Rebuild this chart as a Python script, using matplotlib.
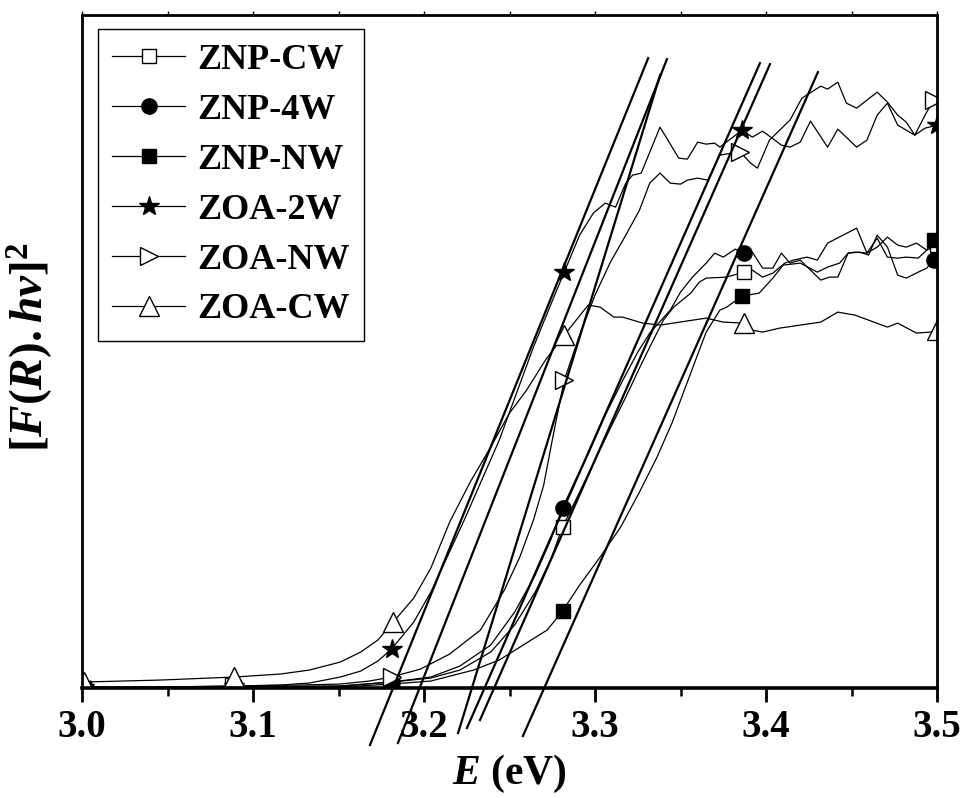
import numpy as np
import matplotlib
matplotlib.use('Agg')
import matplotlib.pyplot as plt
from matplotlib.ticker import MultipleLocator

plt.rcParams['font.family'] = ['Liberation Serif', 'DejaVu Serif']
plt.rcParams['font.weight'] = 'bold'
plt.rcParams['mathtext.fontset'] = 'custom'
plt.rcParams['mathtext.rm'] = 'Liberation Serif:bold'
plt.rcParams['mathtext.it'] = 'Liberation Serif:italic:bold'
plt.rcParams['mathtext.bf'] = 'Liberation Serif:bold'

# ---------------- data (photon energy in eV, [F(R).hv]^2 in a.u.) ----------------
E_znp_cw = [3.001, 3.089, 3.151, 3.181, 3.204, 3.221, 3.239, 3.253, 3.265, 3.274,
            3.281, 3.291, 3.300, 3.309, 3.318, 3.326, 3.332, 3.340, 3.346, 3.356,
            3.361, 3.365, 3.377, 3.387, 3.392, 3.398, 3.404, 3.411, 3.416, 3.424,
            3.430, 3.436, 3.453, 3.459, 3.465, 3.471, 3.477, 3.482, 3.488, 3.494, 3.500]
y_znp_cw = [0, 1, 2, 6, 10, 18, 36, 63, 96, 128,
            161, 196, 228, 260, 291, 320, 341, 368, 381, 395,
            406, 410, 411, 416, 418, 411, 415, 425, 428, 431,
            428, 445, 460, 435, 441, 451, 443, 441, 445, 438, 443]

E_znp_4w = [3.001, 3.089, 3.151, 3.181, 3.204, 3.221, 3.239, 3.253, 3.265, 3.274,
            3.281, 3.288, 3.297, 3.306, 3.316, 3.325, 3.332, 3.344, 3.350, 3.357,
            3.365, 3.370, 3.375, 3.382, 3.387, 3.392, 3.398, 3.404, 3.409, 3.414,
            3.420, 3.426, 3.432, 3.437, 3.442, 3.448, 3.455, 3.460, 3.465, 3.471,
            3.477, 3.482, 3.489, 3.494, 3.498, 3.500]
y_znp_4w = [0, 1, 2, 6, 11, 22, 43, 76, 113, 148,
            180, 206, 238, 273, 307, 336, 355, 378, 396, 411,
            425, 435, 431, 439, 435, 436, 420, 420, 435, 425,
            428, 418, 408, 411, 411, 435, 436, 433, 453, 441,
            413, 410, 416, 420, 428, 430]

E_znp_nw = [3.001, 3.089, 3.151, 3.181, 3.204, 3.229, 3.244, 3.258, 3.272, 3.281,
            3.291, 3.303, 3.315, 3.326, 3.336, 3.345, 3.354, 3.361, 3.365, 3.373,
            3.377, 3.386, 3.396, 3.404, 3.410, 3.420, 3.430, 3.436, 3.443, 3.448,
            3.452, 3.459, 3.465, 3.471, 3.477, 3.482, 3.489, 3.494, 3.498, 3.500]
y_znp_nw = [0, 0, 1, 4, 7, 18, 28, 43, 58, 77,
            103, 131, 161, 196, 230, 265, 306, 338, 356, 378,
            381, 392, 395, 410, 423, 425, 416, 421, 425, 435,
            436, 435, 450, 431, 430, 431, 430, 438, 448, 453]

E_zoa_2w = [3.001, 3.046, 3.089, 3.116, 3.133, 3.151, 3.163, 3.173, 3.181, 3.194,
            3.204, 3.223, 3.244, 3.264, 3.274, 3.282, 3.291, 3.299, 3.306, 3.312,
            3.318, 3.322, 3.327, 3.338, 3.349, 3.354, 3.360, 3.365, 3.370, 3.373,
            3.386, 3.392, 3.398, 3.402, 3.409, 3.414, 3.420, 3.426, 3.436, 3.442,
            3.453, 3.459, 3.465, 3.471, 3.477, 3.487, 3.493, 3.500]
y_zoa_2w = [1, 1, 2, 3, 5, 11, 17, 27, 39, 66,
            96, 166, 248, 341, 383, 416, 453, 475, 485, 481,
            505, 513, 515, 561, 530, 529, 546, 544, 545, 541,
            558, 551, 557, 552, 543, 541, 546, 567, 541, 559,
            541, 548, 573, 585, 563, 553, 560, 563]

E_zoa_nw = [3.001, 3.046, 3.089, 3.127, 3.151, 3.168, 3.181, 3.198, 3.215, 3.233,
            3.247, 3.256, 3.264, 3.270, 3.275, 3.282, 3.291, 3.300, 3.309, 3.318,
            3.326, 3.332, 3.338, 3.344, 3.350, 3.354, 3.360, 3.366, 3.373, 3.380,
            3.385, 3.391, 3.395, 3.402, 3.414, 3.421, 3.432, 3.436, 3.442, 3.447,
            3.453, 3.465, 3.471, 3.477, 3.482, 3.487, 3.493, 3.498, 3.500]
y_zoa_nw = [1, 1, 2, 3, 4, 7, 11, 19, 34, 58,
            98, 131, 168, 203, 248, 308, 353, 393, 426, 453,
            478, 505, 515, 505, 504, 508, 510, 508, 533, 535,
            536, 525, 520, 548, 568, 590, 602, 599, 606, 585,
            580, 596, 586, 573, 566, 553, 573, 588, 591]

E_zoa_cw = [3.001, 3.046, 3.089, 3.116, 3.133, 3.151, 3.163, 3.173, 3.182, 3.194,
            3.204, 3.215, 3.227, 3.239, 3.250, 3.260, 3.271, 3.282, 3.296, 3.303,
            3.311, 3.316, 3.328, 3.338, 3.365, 3.375, 3.387, 3.392, 3.398, 3.408,
            3.420, 3.432, 3.442, 3.452, 3.471, 3.477, 3.488, 3.496, 3.500]
y_zoa_cw = [6, 8, 11, 14, 18, 26, 36, 48, 66, 90,
            120, 166, 206, 241, 275, 298, 328, 353, 383, 381,
            371, 371, 365, 363, 370, 366, 365, 358, 356, 360,
            363, 366, 376, 373, 361, 365, 355, 356, 358]

series_names = ['ZNP-CW', 'ZNP-4W', 'ZNP-NW', 'ZOA-2W', 'ZOA-NW', 'ZOA-CW']
marker_E = [3.001, 3.089, 3.181, 3.282, 3.386, 3.498]

# linear fits (tangents) of the absorption edge: x-intercept (eV), slope (a.u./eV), y extent
fit_Eg = [3.1819, 3.1974, 3.2280, 3.2354, 3.2410, 3.2703]
fit_slope = [4223, 4348, 5570, 3881, 3868, 3849]
fit_ybot = [-57, -55, -45, -40, -32, -48]
fit_ytop = [630, 629, 613, 625, 624, 616]

xtick_vals = [3.0, 3.1, 3.2, 3.3, 3.4, 3.5]
xtick_labels = ['3.0', '3.1', '3.2', '3.3', '3.4', '3.5']

# ---------------- styles ----------------
styles = [
    dict(marker='s', mfc='white', ms=10),
    dict(marker='o', mfc='black', ms=11),
    dict(marker='s', mfc='black', ms=9.5),
    dict(marker='*', mfc='black', ms=15),
    dict(marker='>', mfc='white', ms=13),
    dict(marker='^', mfc='white', ms=14),
]

fig = plt.figure(figsize=(9.66, 7.98), dpi=100)
ax = fig.add_axes([0.0849, 0.1378, 0.8851, 0.8432])

all_E = [E_znp_cw, E_znp_4w, E_znp_nw, E_zoa_2w, E_zoa_nw, E_zoa_cw]
all_y = [y_znp_cw, y_znp_4w, y_znp_nw, y_zoa_2w, y_zoa_nw, y_zoa_cw]

for name, E, y, st in zip(series_names, all_E, all_y, styles):
    E = np.asarray(E)
    idx = [int(np.argmin(np.abs(E - m))) for m in marker_E]
    ax.plot(E, y, color='black', lw=0.9, markevery=idx, mec='black', mew=1.0,
            label=name, **st)

for Eg, s, yb, yt in zip(fit_Eg, fit_slope, fit_ybot, fit_ytop):
    yy = np.array([yb, yt], dtype=float)
    ax.plot(Eg + yy / s, yy, color='black', lw=1.6, clip_on=False, zorder=3)

ax.set_xlim(3.0, 3.5)
ax.set_ylim(0, 673)
ax.set_yticks([])
ax.set_xticks(xtick_vals)
ax.set_xticklabels(xtick_labels)
ax.xaxis.set_minor_locator(MultipleLocator(0.05))
ax.tick_params(axis='x', which='major', direction='out', length=10, width=2,
               labelsize=28, pad=5)
ax.tick_params(axis='x', which='minor', direction='out', length=6, width=1.8)
for lab in ax.get_xticklabels():
    lab.set_fontweight('bold')
for sp in ax.spines.values():
    sp.set_linewidth(2)
ax.spines['bottom'].set_linewidth(2.6)

sec = ax.secondary_xaxis('top')
sec.set_xticks([3.0 + 0.05 * i for i in range(11)])
sec.set_xticklabels([])
sec.tick_params(direction='out', length=3, width=1)

ax.set_xlabel(r'$E$ (eV)', fontsize=30, fontweight='bold', labelpad=5)
fig.text(0.031, 0.565, r'$\mathrm{[}F\mathrm{(}R\mathrm{).}hv\mathrm{]}^{2}$',
         rotation=90, fontsize=34, ha='center', va='center')

leg = ax.legend(loc='upper left', bbox_to_anchor=(0.0187, 0.979), borderaxespad=0,
                handlelength=2.0, handletextpad=0.35, labelspacing=0.46,
                borderpad=0.4, fancybox=False, framealpha=1, edgecolor='black',
                prop={'weight': 'bold', 'size': 26})
leg.get_frame().set_linewidth(1.0)

fig.savefig('out.png', dpi=100)
